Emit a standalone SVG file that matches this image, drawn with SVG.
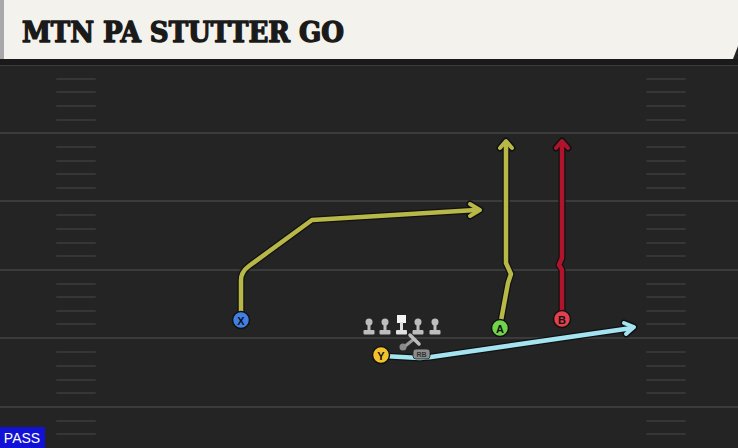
<svg xmlns="http://www.w3.org/2000/svg" width="738" height="448" viewBox="0 0 738 448">
<defs>
<style>
.yl{stroke:#3b3b3b;stroke-width:2}
.hs{stroke:#363636;stroke-width:2;stroke-linecap:round}
.rt{fill:none;stroke-linejoin:round;stroke-linecap:round}
.ol{stroke:#111;stroke-width:7}
.lbl{font-family:"Liberation Sans",Arial,sans-serif;font-size:11px;font-weight:bold;fill:#111;text-anchor:middle}
.ln{fill:#bdbdbd}
</style>
</defs>
<rect width="738" height="448" fill="#242424"/>
<g id="field">
<line class="yl" x1="0" y1="65" x2="738" y2="65"/>
<line class="yl" x1="0" y1="133" x2="738" y2="133"/>
<line class="yl" x1="0" y1="201" x2="738" y2="201"/>
<line class="yl" x1="0" y1="270" x2="738" y2="270"/>
<line class="yl" x1="0" y1="338" x2="738" y2="338"/>
<line class="yl" x1="0" y1="407" x2="738" y2="407"/>
<g id="hashL">
<path class="hs" d="M57,79H95M57,92H95M57,106H95M57,120H95M57,147H95M57,161H95M57,174H95M57,188H95M57,215H95M57,229H95M57,243H95M57,256H95M57,284H95M57,297H95M57,311H95M57,324H95M57,352H95M57,366H95M57,380H95M57,393H95M57,421H95M57,434H95"/>
</g>
<g id="hashR">
<path class="hs" d="M647,79H685M647,92H685M647,106H685M647,120H685M647,147H685M647,161H685M647,174H685M647,188H685M647,215H685M647,229H685M647,243H685M647,256H685M647,284H685M647,297H685M647,311H685M647,324H685M647,352H685M647,366H685M647,380H685M647,393H685M647,421H685M647,434H685"/>
</g>
</g>
<g id="header">
<rect x="0" y="59" width="738" height="6" fill="#1a1a1a"/>
<path d="M0,0 H738 V46 L733,59 H0 Z" fill="#f4f2ec"/>
<rect x="0" y="0" width="4" height="59" fill="#a8a8a8"/>
<text x="22" y="42" font-family="'DejaVu Serif Condensed','DejaVu Serif',serif" font-weight="bold" font-size="27" fill="#1a1a1a" stroke="#1a1a1a" stroke-width="1.3" stroke-linejoin="round" textLength="322" lengthAdjust="spacingAndGlyphs">MTN PA STUTTER GO</text>
</g>
<g id="connectors">
<g id="routeX">
<path class="rt ol" d="M241,318 V280 Q241,272 249,266 L312,220 L476,210"/>
<path class="rt ol" d="M470,204 L480,210 L470,216"/>
<path class="rt" stroke="#b8b848" stroke-width="4.5" d="M241,318 V280 Q241,272 249,266 L312,220 L476,210"/>
<path class="rt" stroke="#b8b848" stroke-width="4" d="M470,204 L480,210 L470,216"/>
</g>
<g id="routeA">
<path class="rt ol" d="M500,326 L508,283 L511,274 L506,263 V143"/>
<path class="rt ol" d="M500,148 L506,141 L512,148"/>
<path class="rt" stroke="#b8b848" stroke-width="4.5" d="M500,326 L508,283 L511,274 L506,263 V143"/>
<path class="rt" stroke="#b8b848" stroke-width="4" d="M500,148 L506,141 L512,148"/>
</g>
<g id="routeB">
<path class="rt ol" d="M562,316 V270 L559,265 L562,258 V143"/>
<path class="rt ol" d="M556,148 L562,141 L568,148"/>
<path class="rt" stroke="#b0142c" stroke-width="4.5" d="M562,316 V270 L559,265 L562,258 V143"/>
<path class="rt" stroke="#b0142c" stroke-width="4" d="M556,148 L562,141 L568,148"/>
</g>
<g id="routeY">
<path class="rt ol" d="M383,356 L420,358 L431,357 L632,328"/>
<path class="rt ol" d="M624,323 L634,327 L626,334"/>
<path class="rt" stroke="#a4e4f0" stroke-width="4.5" d="M383,356 L420,358 L431,357 L632,328"/>
<path class="rt" stroke="#a4e4f0" stroke-width="4" d="M624,323 L634,327 L626,334"/>
</g>
</g>
<g id="line">
<g id="LT"><circle class="ln" cx="369" cy="322" r="3.5"/><rect class="ln" x="367.5" y="322" width="3" height="9"/><rect class="ln" x="363.5" y="330" width="11" height="4.5" rx="1"/></g>
<g id="LG"><circle class="ln" cx="385" cy="322" r="3.5"/><rect class="ln" x="383.5" y="322" width="3" height="9"/><rect class="ln" x="379.5" y="330" width="11" height="4.5" rx="1"/></g>
<g id="C"><rect x="397" y="315" width="9" height="8" fill="#f4f4f4"/><rect x="400" y="322" width="3" height="9" fill="#e0e0e0"/><rect x="396" y="330" width="11" height="4.5" rx="1" fill="#e0e0e0"/></g>
<g id="RG"><circle class="ln" cx="418" cy="322" r="3.5"/><rect class="ln" x="416.5" y="322" width="3" height="9"/><rect class="ln" x="412.5" y="330" width="11" height="4.5" rx="1"/></g>
<g id="RT"><circle class="ln" cx="435" cy="322" r="3.5"/><rect class="ln" x="433.5" y="322" width="3" height="9"/><rect class="ln" x="429.5" y="330" width="11" height="4.5" rx="1"/></g>
</g>
<g id="QB">
<line x1="404" y1="347" x2="414" y2="339" stroke="#9a9a9a" stroke-width="3"/>
<line x1="410" y1="335" x2="419" y2="344" stroke="#bdbdbd" stroke-width="3.5" stroke-linecap="round"/>
<circle cx="403" cy="347" r="3.5" fill="#8a8a8a"/>
</g>
<g id="RB">
<rect x="413" y="349" width="17" height="10" rx="3" fill="#8c8c8c" stroke="#222" stroke-width="0.8"/>
<text x="421.5" y="357" font-family="'Liberation Sans',Arial,sans-serif" font-size="7" font-weight="bold" fill="#333" text-anchor="middle">RB</text>
</g>
<g id="X"><circle cx="241" cy="320" r="8.5" fill="#3f7fe6" stroke="#111" stroke-width="1.5"/><text class="lbl" x="241" y="324.5">X</text></g>
<g id="A"><circle cx="500" cy="328" r="8.5" fill="#6fd44c" stroke="#111" stroke-width="1.5"/><text class="lbl" x="500" y="332.5">A</text></g>
<g id="B"><circle cx="562" cy="319" r="8.5" fill="#e2404c" stroke="#111" stroke-width="1.5"/><text class="lbl" x="562" y="323.5">B</text></g>
<g id="Y"><circle cx="381" cy="355" r="8.5" fill="#f2c22e" stroke="#111" stroke-width="1.5"/><text class="lbl" x="381" y="359.5">Y</text></g>
<g id="pass">
<rect x="0" y="427" width="45" height="21" fill="#1212d6"/>
<text x="22" y="443" font-family="'Liberation Sans',Arial,sans-serif" font-size="14" fill="#ffffff" text-anchor="middle">PASS</text>
</g>
</svg>
